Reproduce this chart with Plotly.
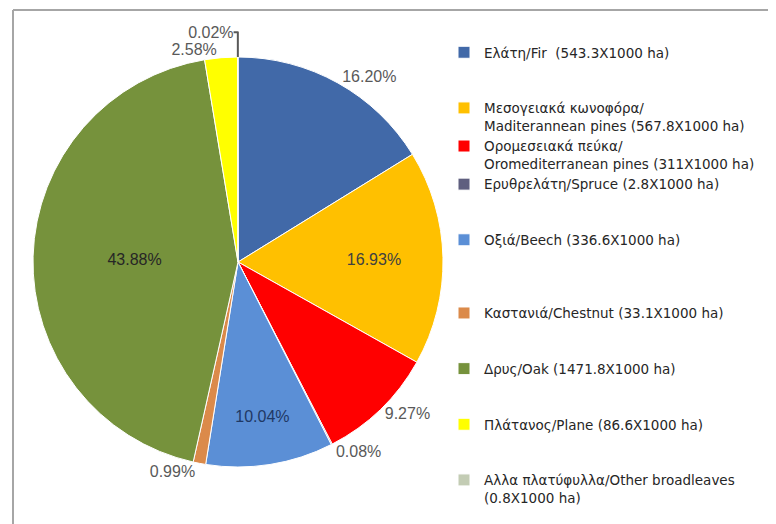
import plotly.graph_objects as go

W, H = 776, 524
OFF = 8  # page body margin offset of the rendered figure

labels = [
    "Ελάτη/Fir  (543.3X1000 ha)",
    "Μεσογειακά κωνοφόρα/<br>Maditerannean pines (567.8X1000 ha)",
    "Ορομεσειακά πεύκα/<br>Oromediterranean pines (311X1000 ha)",
    "Ερυθρελάτη/Spruce (2.8X1000 ha)",
    "Οξιά/Beech (336.6X1000 ha)",
    "Καστανιά/Chestnut (33.1X1000 ha)",
    "Δρυς/Oak (1471.8X1000 ha)",
    "Πλάτανος/Plane (86.6X1000 ha)",
    "Αλλα πλατύφυλλα/Other broadleaves<br>(0.8X1000 ha)",
]
values = [543.3, 567.8, 311.0, 2.8, 336.6, 33.1, 1471.8, 86.6, 0.8]
colors = ["#4169A8", "#FFC000", "#FF0000", "#5F5F7F", "#5B8FD6",
          "#DB8A4A", "#76923C", "#FFFF00", "#C3CCB4"]
# extra blank lines used only to space legend entries like the original
legend_pad = [2, 0, 0, 2, 3, 2, 2, 2, 0]
text_pos = ["outside", "inside", "outside", "outside", "inside",
            "outside", "inside", "outside", "outside"]
text_col = ["#595959", "#404040", "#595959", "#595959", "#1F3864",
            "#595959", "#262626", "#595959", "#595959"]

legend_labels = [lab + "<br>\u00a0" * p for lab, p in zip(labels, legend_pad)]

FONT = "Liberation Sans, Arial"
LFONT = "DejaVu Sans, Liberation Sans, Arial"
cx, cy, r = 238 - OFF, 262 - OFF, 205
fig = go.Figure(go.Pie(
    labels=legend_labels,
    values=values,
    sort=False,
    direction="clockwise",
    rotation=0,
    marker=dict(colors=colors, line=dict(color="white", width=1)),
    texttemplate="%{percent:.2%}",
    textposition=text_pos,
    insidetextorientation="horizontal",
    textfont=dict(size=16, color=text_col, family=FONT),
    outsidetextfont=dict(size=16, color="#595959", family=FONT),
    automargin=False,
    domain=dict(x=[(cx - r) / W, (cx + r) / W], y=[(H - cy - r) / H, (H - cy + r) / H]),
    hoverinfo="label+value+percent",
))

fig.update_layout(
    width=W, height=H,
    margin=dict(l=0, r=0, t=0, b=0),
    paper_bgcolor="white",
    plot_bgcolor="white",
    showlegend=True,
    legend=dict(
        x=436 / W, y=1 - 29 / H, xanchor="left", yanchor="top",
        valign="top",
        font=dict(size=13.5, color="#262626", family=LFONT),
        bgcolor="rgba(0,0,0,0)",
        traceorder="normal",
    ),
    shapes=[
        dict(type="line", xref="paper", yref="paper", x0=(13 - OFF) / W, x1=1,
             y0=1 - (10 - OFF) / H, y1=1 - (10 - OFF) / H,
             line=dict(color="#A6A6A6", width=2)),
        dict(type="line", xref="paper", yref="paper", x0=(13 - OFF) / W, x1=(13 - OFF) / W,
             y0=0, y1=1 - (10 - OFF) / H,
             line=dict(color="#A6A6A6", width=2)),
    ],
)

fig.write_html("out.html")
